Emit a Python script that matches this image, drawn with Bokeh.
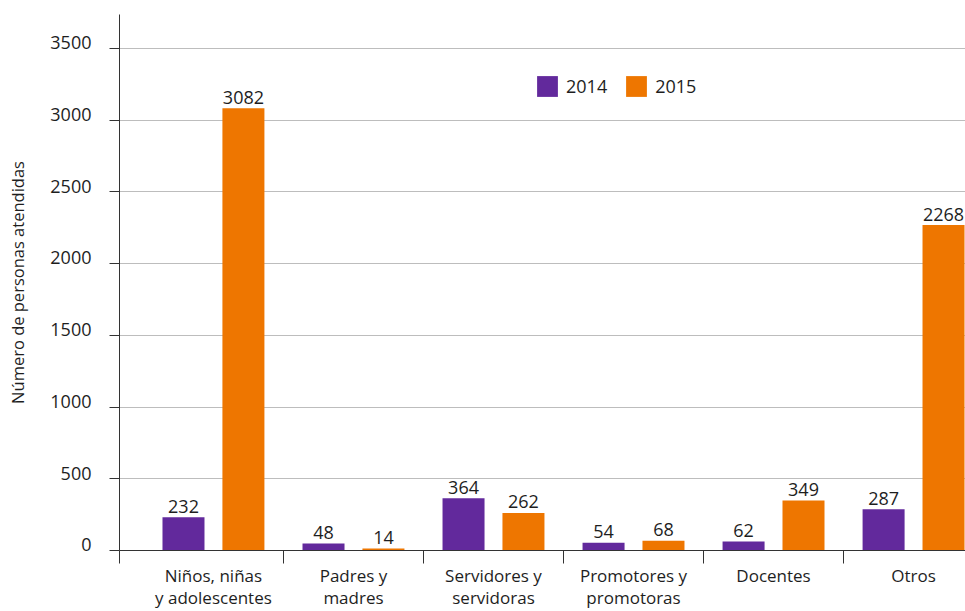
import numpy as np
from bokeh.plotting import figure
from bokeh.models import (ColumnDataSource, FixedTicker, Range1d, Legend, LegendItem,
                          CustomJSTickFormatter, LinearAxis)
from bokeh.core.properties import value
from bokeh.embed import file_html
from bokeh.resources import INLINE

categories = ["Niños, niñas\ny adolescentes", "Padres y\nmadres", "Servidores y\nservidoras",
              "Promotores y\npromotoras", "Docentes", "Otros"]
values_2014 = [232, 48, 364, 54, 62, 287]
values_2015 = [3082, 14, 262, 68, 349, 2268]
series = ["2014", "2015"]
y_ticks = [0, 500, 1000, 1500, 2000, 2500, 3000, 3500]
y_title = "Número de personas atendidas"

FONT = "Open Sans"
TXT = "#1e1e1e"
C14 = "#62299c"
C15 = "#ee7600"
AX = "#333333"

x = np.arange(len(categories))
src = ColumnDataSource(dict(
    x14=x - 0.214, x15=x + 0.214,
    v14=values_2014, v15=values_2015,
    t14=[str(v) for v in values_2014], t15=[str(v) for v in values_2015],
))

x_start, x_end = -0.671, 5.371
y_end = 3736
p = figure(width=965, height=611, x_range=Range1d(x_start, x_end), y_range=Range1d(0, y_end),
           output_backend="svg", toolbar_location=None,
           min_border_left=119, min_border_right=0, min_border_top=14, min_border_bottom=59)
p.outline_line_color = None
p.background_fill_color = "white"

r14 = p.vbar(x="x14", top="v14", width=0.3, source=src, fill_color=C14, line_color=None)
r15 = p.vbar(x="x15", top="v15", width=0.3, source=src, fill_color=C15, line_color=None)

for xs, ys, ts in (("x14", "v14", "t14"), ("x15", "v15", "t15")):
    p.text(x=xs, y=ys, text=ts, source=src, text_align="center", text_baseline="alphabetic",
           y_offset=-11, text_font=value(FONT), text_font_size="18px", text_color=TXT)

# grid
p.xgrid.visible = False
p.ygrid.ticker = FixedTicker(ticks=y_ticks)
p.ygrid.grid_line_color = "#bdbdbd"

# main y axis: line and ticks only
yax = p.yaxis[0]
yax.ticker = FixedTicker(ticks=y_ticks)
yax.formatter = CustomJSTickFormatter(code="return ''")
yax.major_tick_out = 10
yax.major_tick_in = 0
yax.minor_tick_out = 0
yax.minor_tick_in = 0
yax.major_label_standoff = 0
yax.axis_line_color = AX
yax.major_tick_line_color = AX

# label axis on a range shifted a few pixels so labels sit slightly above their ticks
shift = 40
p.extra_y_ranges = {"lab": Range1d(-shift, y_end - shift)}
lab = LinearAxis(y_range_name="lab", ticker=FixedTicker(ticks=y_ticks),
                 axis_line_color=None, major_tick_line_color=None, minor_tick_line_color=None,
                 major_tick_out=0, major_tick_in=0, minor_tick_out=0, minor_tick_in=0,
                 major_label_standoff=18, major_label_text_font=FONT,
                 major_label_text_font_size="18px", major_label_text_color=TXT,
                 axis_label=y_title, axis_label_standoff=18, axis_label_text_font=FONT,
                 axis_label_text_font_size="16.5px", axis_label_text_font_style="normal",
                 axis_label_text_color=TXT)
p.add_layout(lab, "left")

xax = p.xaxis[0]
xax.ticker = FixedTicker(ticks=list(x), minor_ticks=[-0.669, 0.5, 1.5, 2.5, 3.5, 4.5])
xax.major_label_overrides = {int(i): c for i, c in zip(x, categories)}
xax.major_tick_out = 0
xax.major_tick_in = 0
xax.minor_tick_out = 13
xax.minor_tick_in = 0
xax.minor_tick_line_color = AX
xax.axis_line_color = AX
xax.major_label_standoff = 0
xax.major_label_text_font = FONT
xax.major_label_text_font_size = "17px"
xax.major_label_text_color = TXT
xax.major_label_text_line_height = 0.96

legend = Legend(items=[LegendItem(label=series[0], renderers=[r14]),
                       LegendItem(label=series[1], renderers=[r15])],
                orientation="horizontal", location=(415, 451), padding=0, margin=0,
                border_line_color=None, background_fill_alpha=0, glyph_width=26, glyph_height=26,
                label_standoff=6, spacing=16, label_text_font=FONT, label_text_font_size="18px",
                label_text_color=TXT)
p.add_layout(legend)

open("out.html", "w").write(file_html(p, INLINE))
